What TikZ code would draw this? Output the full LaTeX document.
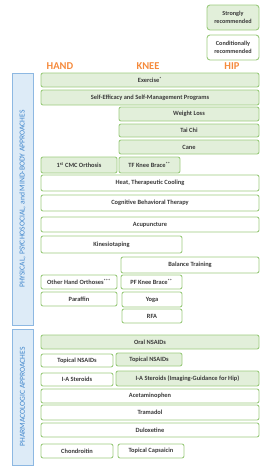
\documentclass[tikz,border=0pt]{standalone}
\usepackage{fontspec}
\setmainfont{Carlito}
\definecolor{gfill}{HTML}{E2EFDA}
\definecolor{gline}{HTML}{9CCB7E}
\definecolor{txt}{HTML}{3A3A3A}
\definecolor{bfill}{HTML}{DDEBF7}
\definecolor{bline}{HTML}{8DB8E2}
\definecolor{btxt}{HTML}{3F86CC}
\definecolor{otxt}{HTML}{F58A3C}
\tikzset{
  base/.style={draw=gline, line width=0.9pt, rounded corners=2pt, inner sep=0pt, outer sep=0pt,
    font=\fontsize{6.4}{7}\selectfont\bfseries, text=txt, align=center},
  gbox/.style={base, fill=gfill},
  wbox/.style={base, fill=white},
  sidebox/.style={draw=bline, fill=bfill, line width=0.9pt, inner sep=0pt, outer sep=0pt},
  sidetext/.style={rotate=90, text=btxt, font=\fontsize{7.6}{8}\selectfont, inner sep=0pt},
  colhead/.style={text=otxt, font=\fontsize{10.5}{11}\selectfont\bfseries, inner sep=0pt},
  legbox/.style={base, rounded corners=3pt, font=\fontsize{6.2}{7.8}\selectfont\bfseries}
}
\newcommand\bx[7]{\node[#6, minimum width={(#4-#2)*1pt}, minimum height={(#5-#3)*1pt}] (#1) at ({(#2+#4)/2},{(#3+#5)/2}) {#7};}
\begin{document}
\begin{tikzpicture}[x=1pt,y=-1pt]
\useasboundingbox (0,0) rectangle (267,469);
% legend
\bx{strong}{207}{5}{259}{30}{legbox,fill=gfill}{Strongly\\recommended}
\bx{cond}{207}{35}{259}{60}{legbox,fill=white}{Conditionally\\recommended}
% column heads
\node[colhead] (hand) at (60,66) {HAND};
\node[colhead] (knee) at (148,66) {KNEE};
\node[colhead] (hip) at (232,66) {HIP};
% side labels
\bx{phys}{12}{73}{33}{325}{sidebox}{}
\node[sidetext] (physt) at (phys.center) {PHYSICAL, PSYCHOSOCIAL, and MIND-BODY APPROACHES};
\bx{pharm}{12}{329}{33}{465}{sidebox}{}
\node[sidetext] (pharmt) at (pharm.center) {PHARMACOLOGIC APPROACHES};
% physical
\bx{exer}{41}{73}{259}{87}{gbox}{Exercise\textsuperscript{*}}
\bx{self}{41}{90}{259}{105}{gbox}{Self-Efficacy and Self-Management Programs}
\bx{wl}{119}{107}{259}{121}{gbox}{Weight Loss}
\bx{tai}{119}{124}{259}{137}{gbox}{Tai Chi}
\bx{cane}{119}{140}{259}{154}{gbox}{Cane}
\bx{cmc}{41}{157}{117}{173}{gbox}{1\textsuperscript{st} CMC Orthosis}
\bx{tf}{119}{157}{180}{173}{gbox}{TF Knee Brace\textsuperscript{**}}
\bx{heat}{41}{175}{259}{191}{wbox}{Heat, Therapeutic Cooling}
\bx{cbt}{41}{195}{259}{211}{wbox}{Cognitive Behavioral Therapy}
\bx{acu}{41}{217}{259}{232}{wbox}{Acupuncture}
\bx{kin}{41}{236}{182}{253}{wbox}{Kinesiotaping}
\bx{bal}{121}{257}{259}{273}{wbox}{Balance Training}
\bx{oho}{41}{275}{117}{289}{wbox}{Other Hand Orthoses\textsuperscript{***}}
\bx{pf}{121}{275}{182}{289}{wbox}{PF Knee Brace\textsuperscript{**}}
\bx{par}{41}{292}{117}{306}{wbox}{Paraffin}
\bx{yoga}{122}{292}{182}{307}{wbox}{Yoga}
\bx{rfa}{122}{309}{182}{323}{wbox}{RFA}
% pharmacologic
\bx{onsaid}{41}{335}{259}{349}{gbox}{Oral NSAIDs}
\bx{tnh}{41}{354}{113}{367}{wbox}{Topical NSAIDs}
\bx{tnk}{116}{353}{182}{366}{gbox}{Topical NSAIDs}
\bx{iah}{41}{373}{113}{386}{wbox}{I-A Steroids}
\bx{iak}{116}{371}{259}{386}{gbox}{I-A Steroids (Imaging-Guidance for Hip)}
\bx{acet}{41}{389}{259}{403}{wbox}{Acetaminophen}
\bx{tram}{41}{405}{259}{420}{wbox}{Tramadol}
\bx{dul}{41}{423}{259}{437}{wbox}{Duloxetine}
\bx{chon}{41}{444}{113}{458}{wbox}{Chondroitin}
\bx{cap}{118}{444}{184}{458}{wbox}{Topical Capsaicin}
\end{tikzpicture}
\end{document}
